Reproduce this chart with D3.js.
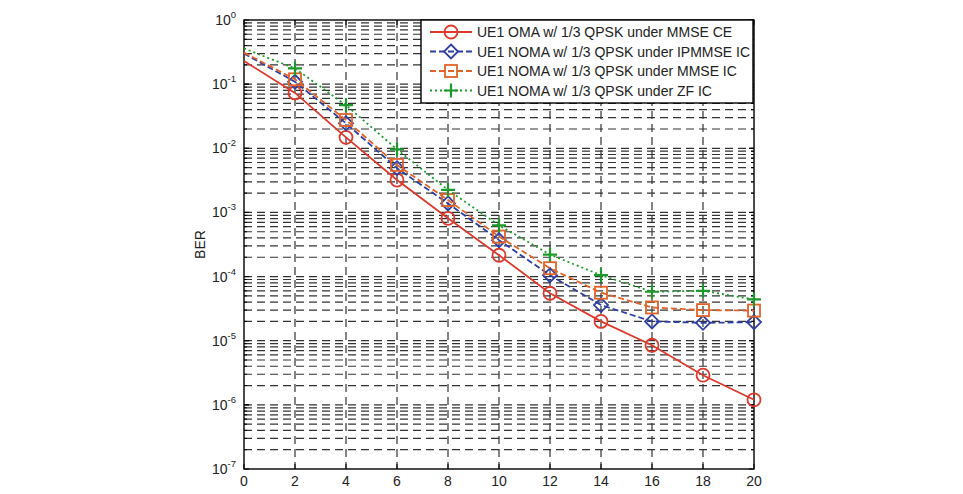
<!DOCTYPE html>
<html><head><meta charset="utf-8">
<script src="https://cdn.jsdelivr.net/npm/d3@7"></script>
<style>body{margin:0;background:#fff;} text{font-family:Arial,"Liberation Sans",sans-serif;}</style>
</head><body>
<svg id="c" width="963" height="494"></svg>
<script>
const snr = [0,2,4,6,8,10,12,14,16,18,20];
const omaMMSE   = [0.23,0.073,0.0148,0.0032,8.1e-4,2.15e-4,5.5e-5,2.0e-5,8.5e-6,2.9e-6,1.2e-6];
const nomaIPMMSE= [0.30,0.109,0.0245,0.0049,1.38e-3,3.7e-4,1.05e-4,3.6e-5,2.0e-5,1.9e-5,1.95e-5];
const nomaMMSE  = [0.31,0.119,0.0276,0.0055,1.56e-3,4.2e-4,1.35e-4,5.6e-5,3.3e-5,3.0e-5,2.95e-5];
const nomaZF    = [0.36,0.176,0.047,0.0096,2.24e-3,6.3e-4,2.2e-4,1.05e-4,5.8e-5,6.0e-5,4.4e-5];
const seriesNames = ["UE1 OMA w/ 1/3 QPSK under MMSE CE","UE1 NOMA w/ 1/3 QPSK under IPMMSE IC","UE1 NOMA w/ 1/3 QPSK under MMSE IC","UE1 NOMA w/ 1/3 QPSK under ZF IC"];
const xTicks = [0,2,4,6,8,10,12,14,16,18,20];
const yDecades = [0,-1,-2,-3,-4,-5,-6,-7];
const yLabel = "BER";

const series = [
  {name:seriesNames[0], values:omaMMSE,    color:"#dd3a2e", dash:null,  marker:"circle"},
  {name:seriesNames[1], values:nomaIPMMSE, color:"#2e3fa3", dash:"6,3", marker:"diamond"},
  {name:seriesNames[2], values:nomaMMSE,   color:"#e2632a", dash:"6,3", marker:"square"},
  {name:seriesNames[3], values:nomaZF,     color:"#1e9a2c", dash:"2,3", marker:"plus"}
];

const svg = d3.select("#c");
const L=244, R=754, T=20, B=469;
const x = d3.scaleLinear().domain([0,20]).range([L,R]);
const y = d3.scaleLog().domain([1e-7,1]).range([B,T]);
const g = svg.append("g");

// grid
const gridColor="#333";
xTicks.slice(1,-1).forEach(v=>{
  g.append("line").attr("x1",x(v)).attr("x2",x(v)).attr("y1",T).attr("y2",B)
   .attr("stroke",gridColor).attr("stroke-width",1.2).attr("stroke-dasharray","8,5");
});
const minor=[];
yDecades.slice(1).forEach(d=>{ for(let k=1;k<=9;k++){ const v=k*Math.pow(10,d); if(v<1 && v>1e-7) minor.push(v);} });
minor.forEach(v=>{
  g.append("line").attr("x1",L).attr("x2",R).attr("y1",y(v)).attr("y2",y(v))
   .attr("stroke",gridColor).attr("stroke-width",1.2).attr("stroke-dasharray","8,5");
});

// frame
g.append("rect").attr("x",L).attr("y",T).attr("width",R-L).attr("height",B-T)
 .attr("fill","none").attr("stroke","#000").attr("stroke-width",1.4);

// ticks
xTicks.forEach(v=>{
  g.append("line").attr("x1",x(v)).attr("x2",x(v)).attr("y1",B).attr("y2",B-5).attr("stroke","#000");
  g.append("line").attr("x1",x(v)).attr("x2",x(v)).attr("y1",T).attr("y2",T+5).attr("stroke","#000");
  g.append("text").attr("x",x(v)).attr("y",B+17).attr("text-anchor","middle").attr("font-size",14).attr("fill","#222").text(v);
});
minor.concat(yDecades.map(d=>Math.pow(10,d))).forEach(v=>{
  const lv=Math.log10(v);
  const len = Math.abs(lv-Math.round(lv))<1e-9 ? 5 : 3;
  g.append("line").attr("x1",L).attr("x2",L+len).attr("y1",y(v)).attr("y2",y(v)).attr("stroke","#000");
  g.append("line").attr("x1",R).attr("x2",R-len).attr("y1",y(v)).attr("y2",y(v)).attr("stroke","#000");
});
yDecades.forEach(d=>{
  const t=g.append("text").attr("x",L-8).attr("y",y(Math.pow(10,d))+5).attr("text-anchor","end").attr("font-size",14).attr("fill","#222");
  t.append("tspan").text("10");
  t.append("tspan").attr("dy",-7).attr("font-size",9.5).text(d);
});
g.append("text").attr("transform",`translate(205,${(T+B)/2}) rotate(-90)`).attr("text-anchor","middle").attr("font-size",14).attr("fill","#222").text(yLabel);

// series
function drawMarker(sel, type, cx, cy, color){
  if(type==="circle") sel.append("circle").attr("cx",cx).attr("cy",cy).attr("r",6.5).attr("fill","none").attr("stroke",color).attr("stroke-width",1.8);
  else if(type==="diamond") sel.append("path").attr("d",`M${cx},${cy-7}L${cx+7},${cy}L${cx},${cy+7}L${cx-7},${cy}Z`).attr("fill","none").attr("stroke",color).attr("stroke-width",1.8);
  else if(type==="square") sel.append("rect").attr("x",cx-6).attr("y",cy-6).attr("width",12).attr("height",12).attr("fill","none").attr("stroke",color).attr("stroke-width",1.8);
  else if(type==="plus") sel.append("path").attr("d",`M${cx-7},${cy}H${cx+7}M${cx},${cy-7}V${cy+7}`).attr("fill","none").attr("stroke",color).attr("stroke-width",2.2);
}
const line = d3.line().x((d,i)=>x(snr[i])).y(d=>y(d));
series.forEach(s=>{
  g.append("path").datum(s.values).attr("d",line).attr("fill","none").attr("stroke",s.color)
   .attr("stroke-width",1.8).attr("stroke-dasharray",s.dash);
  s.values.forEach((v,i)=>{ if(snr[i]>0) drawMarker(g,s.marker,x(snr[i]),y(v),s.color); });
});

// legend
const lg = g.append("g");
lg.append("rect").attr("x",421).attr("y",T).attr("width",332).attr("height",83).attr("fill","#fff").attr("stroke","#000").attr("stroke-width",1.4);
series.forEach((s,i)=>{
  const yy = 32 + i*19.5;
  lg.append("line").attr("x1",430).attr("x2",472).attr("y1",yy).attr("y2",yy).attr("stroke",s.color).attr("stroke-width",1.8).attr("stroke-dasharray",s.dash);
  drawMarker(lg,s.marker,451,yy,s.color);
  lg.append("text").attr("x",477).attr("y",yy+5).attr("font-size",14).attr("fill","#222").text(s.name);
});
</script>
</body></html>
